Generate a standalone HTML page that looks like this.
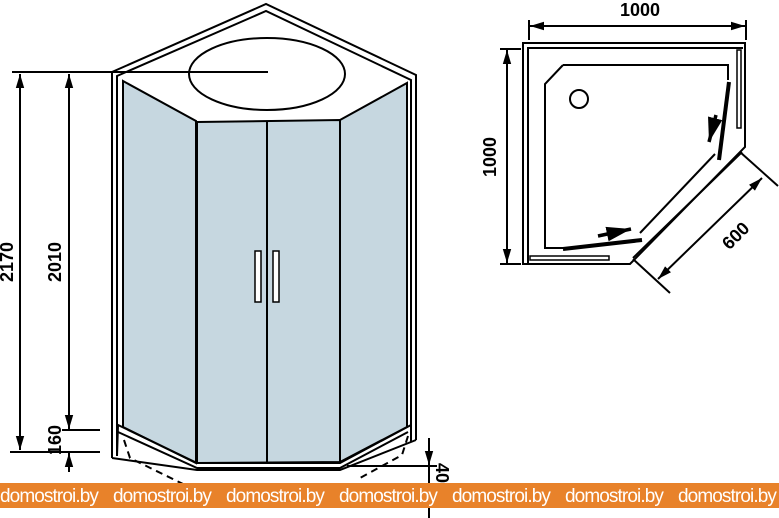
<!DOCTYPE html>
<html><head><meta charset="utf-8"><style>
html,body{margin:0;padding:0;background:#fff;width:779px;height:518px;overflow:hidden}
svg{display:block}
.t{font-family:"Liberation Sans",Arial,sans-serif;font-weight:bold;font-size:18px;fill:#000}
.w{font-family:"Liberation Sans",Arial,sans-serif;font-size:19px;fill:#fff;letter-spacing:-0.9px}
</style></head><body>
<svg width="779" height="518" viewBox="0 0 779 518" xmlns="http://www.w3.org/2000/svg">
<defs>
<marker id="a" viewBox="0 0 10 10" refX="10" refY="5" markerWidth="7" markerHeight="7" orient="auto-start-reverse"><path d="M0,2 L10,5 L0,8 Z" fill="#000"/></marker>
</defs>
<g stroke="#000" stroke-width="2" fill="none">
<path d="M112,458 L112,72 L266,4 L416,75 L416,440"/>
<path d="M117,456 L117,76 L266,11 L411,80 L411,440"/>
<path d="M123,81 L196,121 L196,463 L123,427 Z" fill="#c6d7e0"/>
<path d="M197,122 L340,120 L340,462 L197,463 Z" fill="#c6d7e0"/>
<path d="M340,120 L407,83 L407,427 L340,462 Z" fill="#c6d7e0"/>
<line x1="267" y1="121" x2="267" y2="463"/>
<ellipse cx="267" cy="74" rx="78" ry="36"/>
<rect x="255" y="251" width="6" height="51" fill="#fff" stroke-width="1.5"/>
<rect x="273" y="251" width="6" height="51" fill="#fff" stroke-width="1.5"/>
<path d="M117,456 L118,425 L197,463 L340,463 L411,425 L411,442"/>
<path d="M112,458 L197,470 L340,470 L416,440"/>
<path d="M118,432 L197,468 L340,468 L408,432"/>
<path d="M124,440 L130,458 L185,485" stroke-dasharray="7,5" stroke-width="2"/>
<path d="M408,436 L402,455 L360,478" stroke-dasharray="7,5" stroke-width="2"/>
<line x1="12" y1="72" x2="268" y2="72"/>
<line x1="20" y1="74" x2="20" y2="450" marker-start="url(#a)" marker-end="url(#a)"/>
<line x1="69" y1="74" x2="69" y2="429" marker-start="url(#a)" marker-end="url(#a)"/>
<line x1="62" y1="430" x2="100" y2="430"/>
<line x1="10" y1="452" x2="100" y2="452"/>
<line x1="69" y1="472" x2="69" y2="453" marker-end="url(#a)"/>
<line x1="347" y1="466" x2="437" y2="466"/>
<line x1="429" y1="438" x2="429" y2="465" marker-end="url(#a)"/>
<line x1="429" y1="467" x2="429" y2="518"/>
<path d="M523,264 L523,43 L745,43 L745,147 L630,264 Z"/>
<path d="M528,264 L528,48 L743,48"/>
<path d="M563,65 L728,65 L728,80 M563,65 L545,84 L545,248 L563,248"/>
<circle cx="579" cy="99" r="9"/>
<rect x="737" y="50" width="4" height="78" stroke-width="1.5"/>
<rect x="530" y="256" width="79" height="4" stroke-width="1.5"/>
<line x1="729" y1="82" x2="719" y2="160" stroke-width="4"/>
<line x1="563" y1="249" x2="642" y2="240" stroke-width="4"/>
<line x1="716" y1="115" x2="709" y2="142" stroke-width="3.5" marker-end="url(#a)"/>
<line x1="598" y1="236" x2="631" y2="229" stroke-width="3.5" marker-end="url(#a)"/>
<line x1="742" y1="152" x2="633" y2="258"/>
<line x1="715" y1="154" x2="640" y2="233"/>
<line x1="740" y1="152" x2="778" y2="186"/>
<line x1="633" y1="259" x2="670" y2="293"/>
<line x1="762" y1="178" x2="658" y2="279" marker-start="url(#a)" marker-end="url(#a)"/>
<line x1="529" y1="20" x2="529" y2="40"/>
<line x1="746" y1="20" x2="746" y2="40"/>
<line x1="530" y1="26" x2="745" y2="26" marker-start="url(#a)" marker-end="url(#a)"/>
<line x1="500" y1="49" x2="521" y2="49"/>
<line x1="500" y1="264" x2="521" y2="264"/>
<line x1="507" y1="50" x2="507" y2="263" marker-start="url(#a)" marker-end="url(#a)"/>
</g>
<text class="t" x="640" y="16" text-anchor="middle">1000</text>
<text class="t" transform="translate(496,157) rotate(-90)" text-anchor="middle">1000</text>
<text class="t" transform="translate(740,240) rotate(-45)" text-anchor="middle">600</text>
<text class="t" transform="translate(13,262) rotate(-90)" text-anchor="middle">2170</text>
<text class="t" transform="translate(61,262) rotate(-90)" text-anchor="middle">2010</text>
<text class="t" transform="translate(61,440) rotate(-90)" text-anchor="middle">160</text>
<text class="t" transform="translate(436,473) rotate(90)" text-anchor="middle">40</text>
<rect x="0" y="483" width="779" height="25" fill="#e8822a"/>
<g class="w">
<text x="0" y="502">domostroi.by</text>
<text x="113" y="502">domostroi.by</text>
<text x="226" y="502">domostroi.by</text>
<text x="339" y="502">domostroi.by</text>
<text x="452" y="502">domostroi.by</text>
<text x="565" y="502">domostroi.by</text>
<text x="678" y="502">domostroi.by</text>
</g>
</svg>
</body></html>
